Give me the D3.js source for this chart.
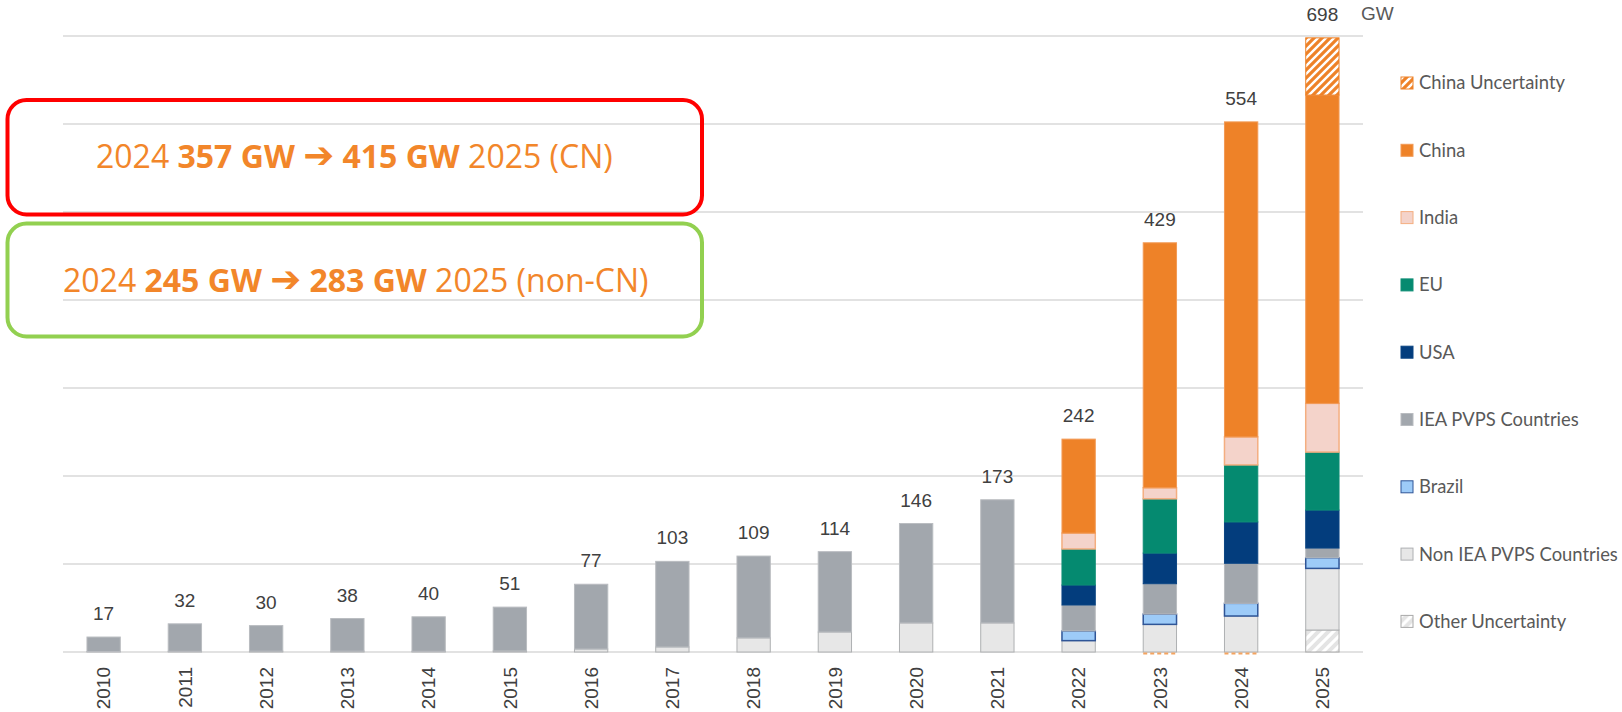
<!DOCTYPE html>
<html>
<head>
<meta charset="utf-8">
<script src="https://cdn.jsdelivr.net/npm/d3@7"></script>
<style>
  html, body { margin: 0; padding: 0; background: #ffffff; }
  svg { display: block; }
</style>
</head>
<body>
<svg id="chart" width="1622" height="712"></svg>
<script>
// ---------------- DATA ----------------
const years = ["2010","2011","2012","2013","2014","2015","2016","2017","2018","2019","2020","2021","2022","2023","2024","2025"];
const otherUncertainty = [0,0,0,0,0,0,0,0,0,0,0,0,0,0,0,25];
const nonIeaPvps       = [0.5,0.8,1,1,0.8,1.2,3.4,5.7,16,22.7,33,33,12.9,31.4,40.9,70];
const brazil           = [0,0,0,0,0,0,0,0,0,0,0,0,11,11.7,14.4,12.1];
const ieaPvps          = [16.5,31.2,29,37,39.2,49.8,73.6,97.3,93,91.3,113,140,29.5,34.5,45.5,11];
const usa              = [0,0,0,0,0,0,0,0,0,0,0,0,22.7,34.8,47,43.2];
const eu               = [0,0,0,0,0,0,0,0,0,0,0,0,41,61.7,64.8,65.9];
const india            = [0,0,0,0,0,0,0,0,0,0,0,0,18,12.5,31.8,55.3];
const china            = [0,0,0,0,0,0,0,0,0,0,0,0,106.8,278.4,358,350.4];
const chinaUncertainty = [0,0,0,0,0,0,0,0,0,0,0,0,0,0,0,65];
const totalLabels      = [17,32,30,38,40,51,77,103,109,114,146,173,242,429,554,698];
const yTicks           = [0,100,200,300,400,500,600,700];
const dashedBaseYears  = ["2023","2024"];
const unitLabel = "GW";

const seriesKeys   = ["otherUnc","nonIea","brazil","iea","usa","eu","india","china","chinaUnc"];
const seriesNames  = {otherUnc:"Other Uncertainty", nonIea:"Non IEA PVPS Countries", brazil:"Brazil", iea:"IEA PVPS Countries", usa:"USA", eu:"EU", india:"India", china:"China", chinaUnc:"China Uncertainty"};
const seriesValues = {otherUnc:otherUncertainty, nonIea:nonIeaPvps, brazil:brazil, iea:ieaPvps, usa:usa, eu:eu, india:india, china:china, chinaUnc:chinaUncertainty};
const legendOrder  = ["chinaUnc","china","india","eu","usa","iea","brazil","nonIea","otherUnc"];

const annotations = [
  {parts:[["2024 ",false],["357 GW",true],[" ",true],["\u2794",true],[" ",true],["415 GW",true],[" 2025 (CN)",false]]},
  {parts:[["2024 ",false],["245 GW",true],[" ",true],["\u2794",true],[" ",true],["283 GW",true],[" 2025 (non-CN)",false]]}
];

// ---------------- STYLES ----------------
const styles = {
  otherUnc: {fill:"url(#hatchGrey)",   stroke:"#A9A9A9", sw:1},
  nonIea:   {fill:"#E7E7E7",           stroke:"#AEB0B2", sw:1},
  brazil:   {fill:"#9DCBF8",           stroke:"#2F5597", sw:1.5},
  iea:      {fill:"#A2A7AD",           stroke:"#B9BCC0", sw:1},
  usa:      {fill:"#033D7D",           stroke:"#0B4583", sw:1},
  eu:       {fill:"#058A70",           stroke:"#0E8E75", sw:1},
  india:    {fill:"#F4D3CA",           stroke:"#F4AE80", sw:1.5},
  china:    {fill:"#EE8228",           stroke:"#F29A55", sw:1},
  chinaUnc: {fill:"url(#hatchOrange)", stroke:"#EE8228", sw:1}
};

// ---------------- LAYOUT ----------------
const svg = d3.select("#chart");
const plotLeft = 63, plotRight = 1363, plotTop = 36, plotBottom = 652;

const x = d3.scaleBand().domain(years).range([plotLeft, plotRight]).paddingInner(0.59).paddingOuter(0.295);
const y = d3.scaleLinear().domain([0, 700]).range([plotBottom, plotTop]);

// patterns
const defs = svg.append("defs");
const po = defs.append("pattern").attr("id","hatchOrange").attr("patternUnits","userSpaceOnUse")
  .attr("width",8).attr("height",8);
po.append("rect").attr("width",8).attr("height",8).attr("fill","#ffffff");
po.append("path").attr("d","M-2,2 L2,-2 M0,8 L8,0 M6,10 L10,6").attr("stroke","#EE8228").attr("stroke-width",3.2);

const pg = defs.append("pattern").attr("id","hatchGrey").attr("patternUnits","userSpaceOnUse")
  .attr("width",10).attr("height",10);
pg.append("rect").attr("width",10).attr("height",10).attr("fill","#ffffff");
pg.append("path").attr("d","M-2.5,2.5 L2.5,-2.5 M0,10 L10,0 M7.5,12.5 L12.5,7.5").attr("stroke","#E4E4E4").attr("stroke-width",4);

// gridlines
svg.append("g").selectAll("line").data(yTicks).join("line")
  .attr("x1", plotLeft).attr("x2", plotRight)
  .attr("y1", d => y(d)).attr("y2", d => y(d))
  .attr("stroke", "#D9D9D9").attr("stroke-width", d => d === 0 ? 1.6 : 1.3);

// stacked bars
const table = years.map((yr, i) => {
  const row = {year: yr};
  seriesKeys.forEach(k => row[k] = seriesValues[k][i]);
  return row;
});
const stacked = d3.stack().keys(seriesKeys)(table);
const stackTop = stacked[stacked.length - 1].map(d => d[1]);

const gBars = svg.append("g");
stacked.forEach(layer => {
  const st = styles[layer.key];
  gBars.append("g").selectAll("rect").data(layer.filter(d => d[1] - d[0] > 0)).join("rect")
    .attr("x", d => x(d.data.year))
    .attr("width", x.bandwidth())
    .attr("y", d => y(d[1]))
    .attr("height", d => y(d[0]) - y(d[1]))
    .attr("fill", st.fill)
    .attr("stroke", st.stroke)
    .attr("stroke-width", st.sw);
});

// dashed orange marks at base of 2023/2024
svg.append("g").selectAll("line").data(dashedBaseYears).join("line")
  .attr("x1", d => x(d)).attr("x2", d => x(d) + x.bandwidth())
  .attr("y1", y(0) + 1.5).attr("y2", y(0) + 1.5)
  .attr("stroke", "#F4A460").attr("stroke-width", 2).attr("stroke-dasharray", "4,3");

// total labels (placed above the drawn bar top)
svg.append("g").selectAll("text").data(years).join("text")
  .attr("x", d => x(d) + x.bandwidth() / 2)
  .attr("y", (d, i) => y(stackTop[i]) - 17)
  .attr("text-anchor", "middle")
  .attr("font-family", "'Liberation Sans', Arial, sans-serif")
  .attr("font-size", 19)
  .attr("fill", "#404040")
  .text((d, i) => totalLabels[i]);

// unit label
svg.append("text").attr("x", 1361).attr("y", 20)
  .attr("font-family", "'Liberation Sans', Arial, sans-serif")
  .attr("font-size", 19).attr("fill", "#595959").text(unitLabel);

// x axis tick labels (rotated)
svg.append("g").selectAll("text").data(years).join("text")
  .attr("transform", d => `translate(${x(d) + x.bandwidth() / 2},667) rotate(-90)`)
  .attr("text-anchor", "end")
  .attr("dy", "0.35em")
  .attr("font-family", "'Liberation Sans', Arial, sans-serif")
  .attr("font-size", 19)
  .attr("fill", "#404040")
  .text(d => d);

// legend
const legendTop = 83, legendStep = 67.3;
const lg = svg.append("g").selectAll("g").data(legendOrder).join("g")
  .attr("transform", (d, i) => `translate(1401,${legendTop + i * legendStep})`);
lg.append("rect").attr("x", 0).attr("y", -6).attr("width", 12).attr("height", 12)
  .attr("fill", d => styles[d].fill)
  .attr("stroke", d => styles[d].stroke)
  .attr("stroke-width", 1);
lg.append("text").attr("x", 18).attr("dy", "0.35em")
  .attr("font-family", "Lato, 'Open Sans', sans-serif")
  .attr("font-size", 18.4)
  .attr("fill", "#595959")
  .text(d => seriesNames[d]);

// annotation boxes
const boxes = [
  {x:7.5, y:100, w:694.5, h:114.5, color:"#FF0000", tx:96, ty:167.5},
  {x:7.5, y:223.5, w:694.5, h:113, color:"#92D050", tx:63, ty:291.5}
];
annotations.forEach((a, i) => {
  const b = boxes[i];
  svg.append("rect").attr("x", b.x).attr("y", b.y).attr("width", b.w).attr("height", b.h)
    .attr("rx", 19).attr("ry", 19)
    .attr("fill", "none").attr("stroke", b.color).attr("stroke-width", 4);
  const t = svg.append("text").attr("x", b.tx).attr("y", b.ty)
    .attr("font-family", "'Open Sans', 'Noto Sans', sans-serif")
    .attr("font-size", 32)
    .attr("fill", "#F2862A")
    .attr("xml:space", "preserve")
    .style("white-space", "pre");
  a.parts.forEach(p => {
    const ts = t.append("tspan").attr("font-weight", p[1] ? 700 : 400).text(p[0]);
    if (p[0] === "\u2794") ts.attr("font-family", "'DejaVu Sans', sans-serif").attr("font-size", 37);
  });
});
</script>
</body>
</html>
